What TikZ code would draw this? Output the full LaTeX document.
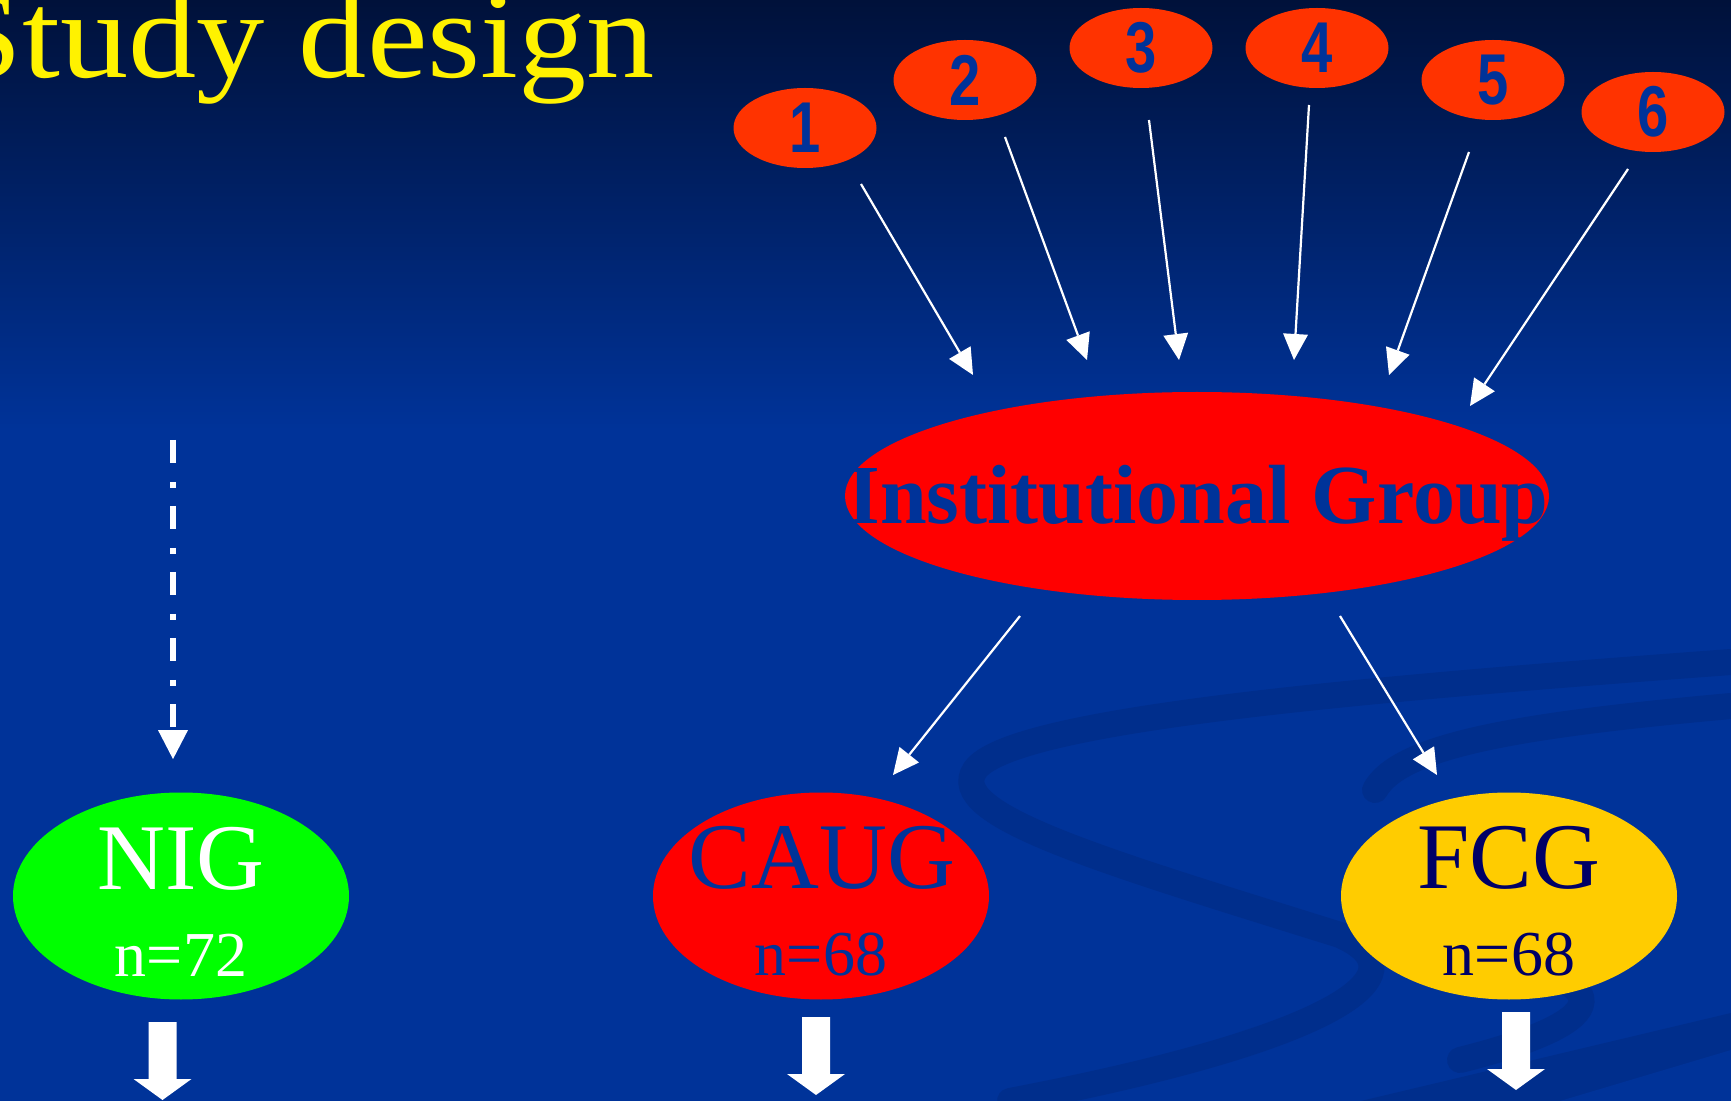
\documentclass[tikz,border=0pt]{standalone}
\usepackage{graphicx}
\usepackage{fontspec}
\setmainfont{Liberation Serif}
\newfontfamily\digitfont{Liberation Sans}
\usetikzlibrary{shapes.geometric,arrows.meta,calc}

\definecolor{slideblue}{RGB}{0,51,153}
\definecolor{slidetop}{RGB}{0,17,58}
\definecolor{slidemid}{RGB}{0,36,110}
\definecolor{swirl}{RGB}{0,46,140}
\definecolor{discorange}{RGB}{255,51,0}
\definecolor{textblue}{RGB}{0,51,153}
\definecolor{fcgnavy}{RGB}{0,0,102}
\definecolor{niggreen}{RGB}{0,255,0}
\definecolor{fcgyellow}{RGB}{255,204,0}

% condensed bold digit for the small source discs
\newcommand\discdigit[1]{\scalebox{0.78}[1]{\digitfont\bfseries\fontsize{36}{36}\selectfont #1}}
% thick white block arrow below a group ellipse
\newcommand\blockdown[3]{%
  \fill[white] ($(#1)+(#2-14,#3)$) -- ++(28,0) -- ++(0,57) -- ++(15,0)
    -- ++(-29,21) -- ++(-29,-21) -- ++(15,0) -- cycle;}

\begin{document}
\begin{tikzpicture}[x=0.5pt,y=-0.5pt,
  disc/.style={ellipse, fill=discorange, minimum width=71.5pt, minimum height=40pt,
    inner sep=0pt, text=textblue},
  groupdisc/.style={ellipse, minimum width=168pt, minimum height=103.5pt, inner sep=0pt},
  grouptitle/.style={anchor=base, inner sep=0pt, font=\fontsize{47}{47}\selectfont},
  groupcount/.style={anchor=base, inner sep=0pt, font=\fontsize{32}{32}\selectfont},
  feed/.style={draw=white, line width=1.1pt, -{Triangle[length=13pt,width=12.5pt,line width=0pt]}},
  pending/.style={draw=white, line width=3pt,
    dash pattern=on 11.5pt off 9.5pt on 3pt off 9pt,
    -{Triangle[length=14.5pt,width=15pt,line width=0pt]}},
  band/.style={draw=swirl, line width=13pt, line cap=round}]

\useasboundingbox (0,0) rectangle (1731,1101);

% slide background
\shade[top color=slidetop, middle color=slidemid, bottom color=slideblue]
  (0,0) rectangle (1731,430);
\fill[slideblue] (0,429) rectangle (1731,1101);

% faint swirl ribbons
\draw[band] (1731,662) .. controls (1350,690) and (1010,720) .. (975,770)
  .. controls (945,815) and (1100,860) .. (1340,935)
  .. controls (1430,975) and (1330,1040) .. (1010,1101);
\draw[band] (1731,706) .. controls (1520,725) and (1400,745) .. (1375,790);
\draw[band] (1470,955) .. controls (1600,975) and (1640,1015) .. (1460,1060);
\fill[swirl] (1731,1013) -- (1361,1101) -- (1731,1101) -- cycle;
\fill[slideblue] (1731,1050) -- (1560,1101) -- (1731,1101) -- cycle;

% title
\node[anchor=base west, inner sep=0pt, text=yellow] (title) at (-54,78)
  {\fontsize{62}{62}\selectfont\scalebox{1.1}[1]{Study design}};

% source discs
\node[disc] (n1) at (805,128) {\discdigit{1}};
\node[disc] (n2) at (965,80)  {\discdigit{2}};
\node[disc] (n3) at (1141,48) {\discdigit{3}};
\node[disc] (n4) at (1317,48) {\discdigit{4}};
\node[disc] (n5) at (1493,80) {\discdigit{5}};
\node[disc] (n6) at (1653,112) {\discdigit{6}};

% institutional group
\node[ellipse, fill=red, minimum width=352pt, minimum height=104pt, inner sep=0pt]
  (ig) at (1197,496) {};
\node[anchor=base, inner sep=0pt, text=textblue] (iglabel) at (1198,524)
  {\fontsize{42}{42}\selectfont\bfseries Institutional Group};

% study groups
\node[groupdisc, fill=niggreen] (nig) at (181,896) {};
\node[grouptitle, text=white] (nigname) at (181,889) {NIG};
\node[groupcount, text=white] (nigcount) at (181,976) {n=72};

\node[groupdisc, fill=red] (caug) at (821,896) {};
\node[grouptitle, text=textblue] (caugname) at (822,888) {CAUG};
\node[groupcount, text=textblue] (caugcount) at (821,975) {n=68};

\node[groupdisc, fill=fcgyellow] (fcg) at (1509,896) {};
\node[grouptitle, text=fcgnavy] (fcgname) at (1509,888) {FCG};
\node[groupcount, text=fcgnavy] (fcgcount) at (1509,975) {n=68};

% sources feeding the institutional group
\draw[feed] ($(n1)+(56,56)$)  -- ($(ig)+(-224,-121)$);
\draw[feed] ($(n2)+(40,57)$)  -- ($(ig)+(-110,-136)$);
\draw[feed] ($(n3)+(8,72)$)   -- ($(ig)+(-18,-136)$);
\draw[feed] ($(n4)+(-8,57)$)  -- ($(ig)+(97,-136)$);
\draw[feed] ($(n5)+(-24,72)$) -- ($(ig)+(192,-121)$);
\draw[feed] ($(n6)+(-25,57)$) -- ($(ig)+(273,-90)$);

% split of the institutional group
\draw[feed] ($(ig)+(-177,120)$) -- ($(caug)+(72,-121)$);
\draw[feed] ($(ig)+(143,120)$)  -- ($(fcg)+(-72,-121)$);

% non-institutional group entry
\coordinate (nigsource) at (173,440);
\draw[pending] (nigsource) -- ($(nig.north)+(-8,-33)$);

% outcomes below each group
\blockdown{nig}{-18.5}{126}
\blockdown{caug}{-5}{121}
\blockdown{fcg}{7}{116}

\end{tikzpicture}
\end{document}
